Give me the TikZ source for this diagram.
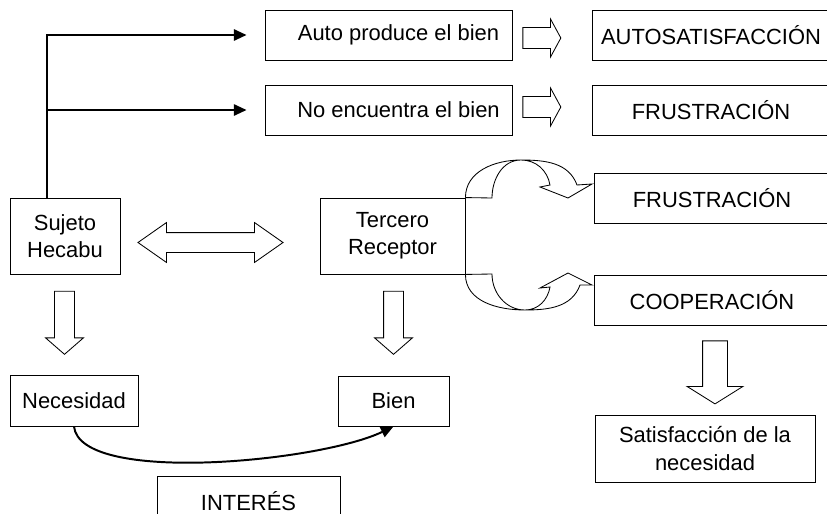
\documentclass[tikz,border=0pt]{standalone}
\usepackage{fontspec}
\setmainfont{Liberation Sans}
\usetikzlibrary{arrows.meta,shapes.arrows}
\tikzset{
  caja/.style={
    draw, line width=0.6pt, align=center, inner sep=0pt,
    font=\fontsize{15.6}{19.5}\selectfont
  },
  flecha/.style={-{Triangle[length=9pt,width=8pt]}, line width=1.4pt},
  bloque/.style={draw, single arrow, line width=0.6pt, inner xsep=0pt, minimum width=0pt},
  doble/.style={draw, double arrow, line width=0.6pt, inner xsep=0pt, minimum width=0pt},
  giro/.style={draw, line width=0.6pt, fill=white},
}

\begin{document}
\begin{tikzpicture}[x=0.025cm, y=-0.025cm]
    \clip (0,0) rectangle (827,513);
    % fila superior
    \node[caja, minimum width=6.175cm, minimum height=1.25cm] (auto) at (388.5,35) {\hspace{0.5cm}Auto produce el bien};
    \node[caja, minimum width=6.175cm, minimum height=1.25cm] (noenc) at (388.5,110) {\hspace{0.5cm}No encuentra el bien};
    \node[caja, minimum width=5.95cm, minimum height=1.25cm] (autosat) at (711,35) {AUTOSATISFACCIÓN};
    \node[caja, minimum width=5.95cm, minimum height=1.25cm] (frus1) at (711,110) {FRUSTRACIÓN};
    % sujeto y tercero
    \node[caja, minimum width=2.75cm, minimum height=1.9cm] (sujeto) at (65,236) {Sujeto\\Hecabu};
    \node[caja, minimum width=3.625cm, minimum height=1.9cm] (tercero) at (392.5,236) {Tercero\\Receptor};
    \node[caja, minimum width=5.9cm, minimum height=1.25cm] (frus2) at (712,198) {FRUSTRACIÓN};
    \node[caja, minimum width=5.9cm, minimum height=1.25cm] (coop) at (712,300) {COOPERACIÓN};
    % fila inferior
    \node[caja, minimum width=3.2cm, minimum height=1.275cm] (necesidad) at (74,400.5) {Necesidad};
    \node[caja, minimum width=2.775cm, minimum height=1.25cm] (bien) at (393.5,401) {Bien};
    \node[caja, minimum width=5.5cm, minimum height=1.675cm] (satisf) at (705,448.5) {Satisfacción de la\\necesidad};
    \node[caja, minimum width=4.575cm, minimum height=1.25cm] (interes) at (248.5,501) {INTERÉS};

    % flechas huecas
    \node[bloque, inner ysep=0.25cm, minimum height=0.95cm, single arrow head extend=0.2125cm,
          single arrow tip angle=123] (b1) at (539,38) {};
    \node[bloque, inner ysep=0.25cm, minimum height=0.95cm, single arrow head extend=0.2125cm,
          single arrow tip angle=123] (b2) at (539,107) {};
    \node[doble, inner ysep=0.2375cm, minimum height=3.625cm, double arrow head extend=0.25cm,
          double arrow tip angle=70] (b3) at (210.5,242.5) {};
    \node[bloque, rotate=-90, inner ysep=0.2375cm, minimum height=1.575cm, single arrow head extend=0.225cm,
          single arrow tip angle=98] (b4) at (64.5,318.5) {};
    \node[bloque, rotate=-90, inner ysep=0.2375cm, minimum height=1.575cm, single arrow head extend=0.225cm,
          single arrow tip angle=98] (b5) at (393.5,318.5) {};
    \node[bloque, rotate=-90, inner ysep=0.3cm, minimum height=1.575cm, single arrow head extend=0.3875cm,
          single arrow tip angle=116] (b6) at (715,368.5) {};

    % flechas curvas
    \coordinate (arr) at (tercero.north east);
    \coordinate (abj) at (tercero.south east);
    \draw[giro] (arr) to[out=90,in=180] (521,160) to[out=0,in=110] (577,185)
      -- (592,184) -- (568,198) -- (540,187) -- (550,185)
      to[out=100,in=0] (521,160) to[out=180,in=90] (492,198) -- (arr);
    \draw[giro] (abj) to[out=-90,in=180] (525,310) to[out=0,in=-110] (580,285)
      -- (592,285) -- (568,273) -- (540,288) -- (550,287)
      to[out=-100,in=0] (525,310) to[out=180,in=-90] (492,274) -- (abj);

    % flechas negras
    \coordinate (tronco) at ([xshift=-0.45cm]sujeto.north);
    \draw[flecha] (tronco) |- ([xshift=-0.45cm]auto.west);
    \draw[flecha] (tronco |- noenc.west) -- ([xshift=-0.45cm]noenc.west);
    \draw[flecha] (necesidad.south) .. controls (80,485) and (320,462) .. (bien.south);
\end{tikzpicture}
\end{document}
